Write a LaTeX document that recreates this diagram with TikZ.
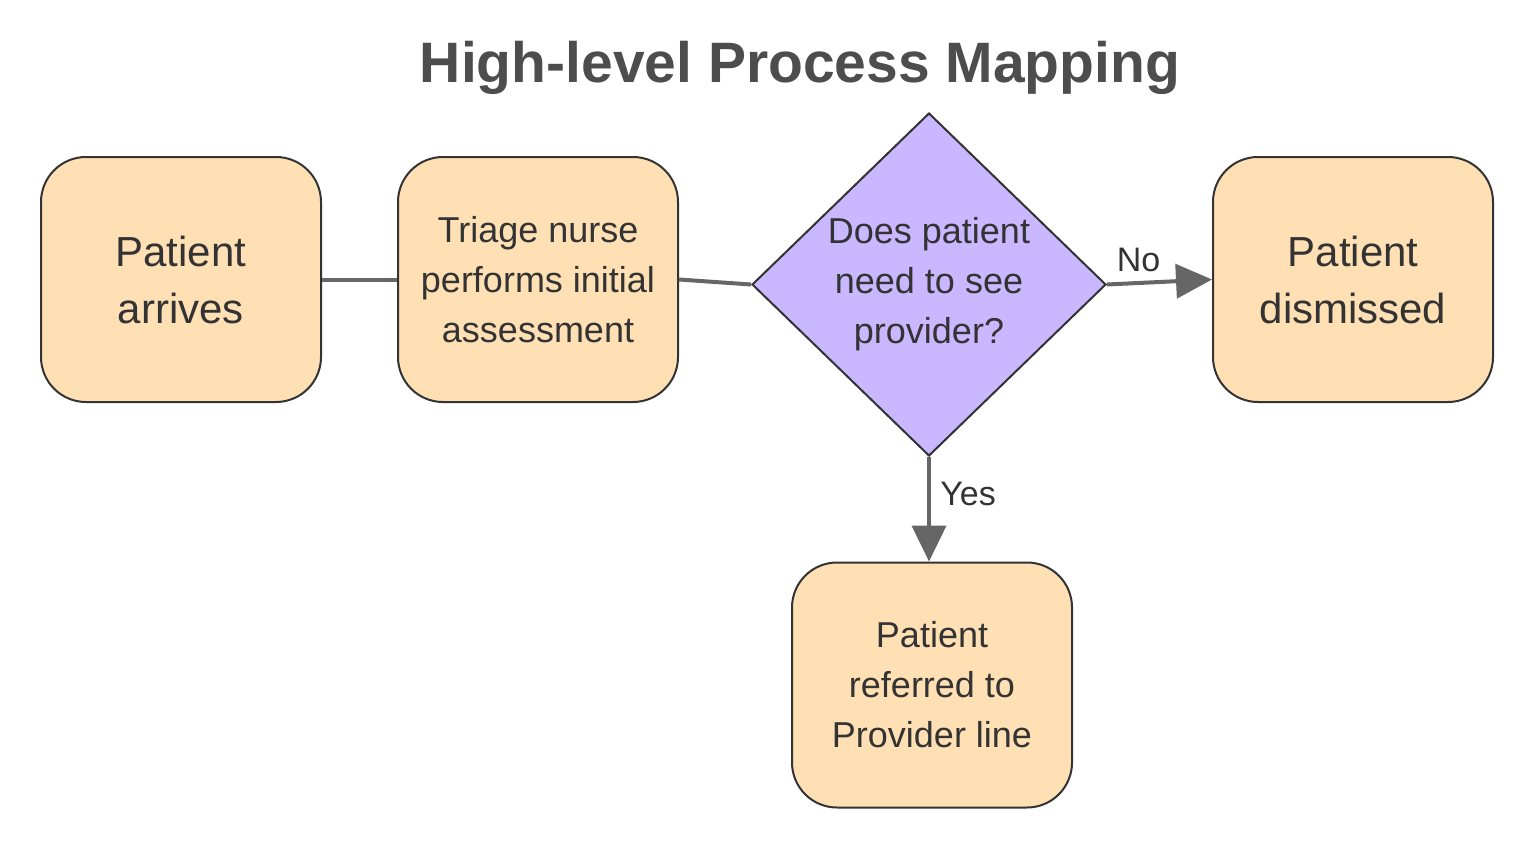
\documentclass[tikz,border=0pt]{standalone}
\usepackage{fontspec}
\setmainfont{Liberation Sans}
\usetikzlibrary{shapes.geometric,arrows.meta}
\definecolor{boxfill}{HTML}{FFE0B5}
\definecolor{dfill}{HTML}{C9B7FF}
\definecolor{ink}{HTML}{333333}
\definecolor{edge}{HTML}{666666}
\definecolor{ttl}{HTML}{4D4D4D}
\begin{document}
\begin{tikzpicture}[x=1pt,y=-1pt,
  box/.style={draw=ink,line width=2pt,fill=boxfill,rounded corners=45pt,minimum width=280pt,minimum height=245pt,align=center,text=ink,inner sep=0pt},
  dia/.style={draw=ink,line width=2pt,fill=dfill,diamond,minimum width=354pt,minimum height=343pt,align=center,text=ink,inner sep=0pt},
  conn/.style={draw=edge,line width=4pt},
  arr/.style={conn,-{Triangle[length=36pt,width=34pt]}},
  lbl/.style={text=ink,font=\fontsize{34}{40}\selectfont}]
\useasboundingbox (0,0) rectangle (1536,864);
\node[text=ttl,font=\fontsize{57}{66}\selectfont\bfseries] (t) at (800,68) {High-level Process Mapping};
\node[box,font=\fontsize{42}{57}\selectfont] (a) at (181,279.5) {Patient\\ arrives};
\node[box,font=\fontsize{36}{50}\selectfont] (b) at (538,279.5) {Triage nurse\\performs initial\\ assessment};
\node[dia,font=\fontsize{36}{50}\selectfont] (c) at (929,284.5) {Does patient\\need to see\\provider?};
\node[box,font=\fontsize{42}{57}\selectfont] (d) at (1353,279.5) {Patient\\dismissed};
\node[box,font=\fontsize{36}{50}\selectfont] (e) at (932,685) {Patient\\referred to\\Provider line};
\draw[conn] (a.east) -- (b.west);
\draw[conn] (b.east) -- (c.west);
\draw[arr] (c.east) -- node[lbl,above,yshift=6pt,pos=0.3]{No} (d.west);
\draw[arr] (c.south) -- node[lbl,right,xshift=6pt,pos=0.35]{Yes} (e.north-|c.south);
\end{tikzpicture}
\end{document}
